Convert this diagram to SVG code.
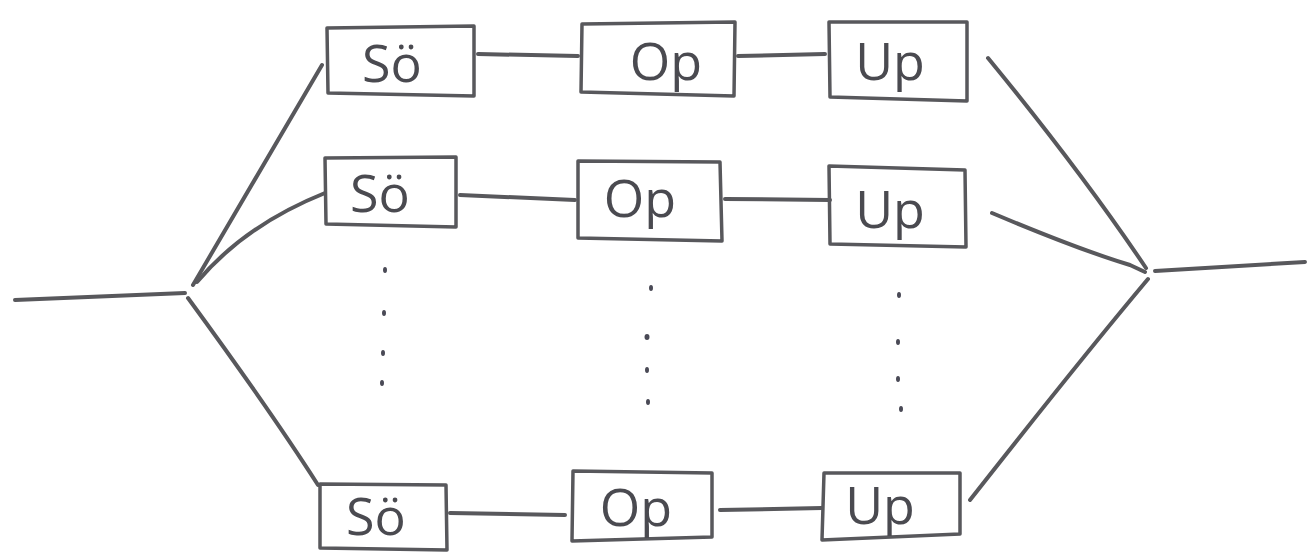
<svg xmlns="http://www.w3.org/2000/svg" width="1312" height="553" viewBox="0 0 1312 553">
  <style>
    .ln { fill: none; stroke: #58585c; stroke-width: 4; stroke-linecap: round; stroke-linejoin: round; }
    .bx { fill: none; stroke: #58585c; stroke-width: 3.5; stroke-linecap: round; stroke-linejoin: round; }
    .lb { font-family: "Open Sans", "DejaVu Sans", sans-serif; font-weight: 400; font-size: 52px; fill: #4a4a50; text-anchor: middle; }
    .dot { fill: #4a4a56; }
  </style>
  <rect width="1312" height="553" fill="#ffffff"/>

  <!-- connectors -->
  <g id="connectors">
    <!-- left trunk and fan-out -->
    <path class="ln" d="M15 300 L185 293"/>
    <path class="ln" d="M193 285 L322 65"/>
    <path class="ln" d="M197 282 Q245 225 325 193"/>
    <path class="ln" d="M188 298 Q270 410 318 485"/>
    <!-- row 1 -->
    <path class="ln" d="M478 54 L578 56"/>
    <path class="ln" d="M738 56 L825 54"/>
    <!-- row 2 -->
    <path class="ln" d="M460 195 L575 200"/>
    <path class="ln" d="M725 199 L830 200"/>
    <!-- row 3 -->
    <path class="ln" d="M450 513 L565 515"/>
    <path class="ln" d="M720 510 L822 508"/>
    <!-- right fan-in and trunk -->
    <path class="ln" d="M988 58 Q1080 170 1146 268"/>
    <path class="ln" d="M992 213 Q1080 250 1130 265 L1145 272"/>
    <path class="ln" d="M970 500 Q1080 360 1148 279"/>
    <path class="ln" d="M1155 271 L1305 262"/>
  </g>

  <!-- row 1 -->
  <g id="so1">
    <path class="bx" d="M327 28 L474 26 L474 96 L328 93 Z"/>
    <text class="lb" x="392" y="82">Sö</text>
  </g>
  <g id="op1">
    <path class="bx" d="M582 24 L735 22 L734 96 L581 92 Z"/>
    <text class="lb" x="666" y="80">Op</text>
  </g>
  <g id="up1">
    <path class="bx" d="M829 22 L967 22 L967 101 L830 97 Z"/>
    <text class="lb" x="890" y="80">Up</text>
  </g>

  <!-- row 2 -->
  <g id="so2">
    <path class="bx" d="M325 158 L456 157 L456 227 L326 224 Z"/>
    <text class="lb" x="380" y="212" font-size="42">Sö</text>
  </g>
  <g id="op2">
    <path class="bx" d="M578 161 L720 162 L722 241 L578 238 Z"/>
    <text class="lb" x="640" y="217" font-size="48">Op</text>
  </g>
  <g id="up2">
    <path class="bx" d="M829 166 L965 170 L966 247 L830 244 Z"/>
    <text class="lb" x="890" y="228" font-size="50">Up</text>
  </g>

  <!-- vertical ellipsis dots -->
  <g id="dots">
    <ellipse class="dot" cx="385" cy="270" rx="2" ry="3"/>
    <ellipse class="dot" cx="384" cy="313" rx="2" ry="3"/>
    <ellipse class="dot" cx="383" cy="353" rx="2" ry="3"/>
    <ellipse class="dot" cx="382" cy="383" rx="2" ry="3"/>
    <ellipse class="dot" cx="651" cy="288" rx="2" ry="3"/>
    <ellipse class="dot" cx="647" cy="337" rx="2.5" ry="3"/>
    <ellipse class="dot" cx="647" cy="370" rx="2" ry="3"/>
    <ellipse class="dot" cx="648" cy="402" rx="2" ry="3"/>
    <ellipse class="dot" cx="899" cy="295" rx="2" ry="3"/>
    <ellipse class="dot" cx="898" cy="342" rx="2" ry="3"/>
    <ellipse class="dot" cx="898" cy="379" rx="2" ry="3"/>
    <ellipse class="dot" cx="901" cy="409" rx="2" ry="3"/>
  </g>

  <!-- row 3 -->
  <g id="so3">
    <path class="bx" d="M320 484 L446 485 L447 550 L320 548 Z"/>
    <text class="lb" x="376" y="535" font-size="44">Sö</text>
  </g>
  <g id="op3">
    <path class="bx" d="M573 471 L712 473 L712 537 L572 541 Z"/>
    <text class="lb" x="636" y="526" font-size="44">Op</text>
  </g>
  <g id="up3">
    <path class="bx" d="M824 473 L960 473 L960 534 L822 540 Z"/>
    <text class="lb" x="880" y="524" font-size="44">Up</text>
  </g>
</svg>
